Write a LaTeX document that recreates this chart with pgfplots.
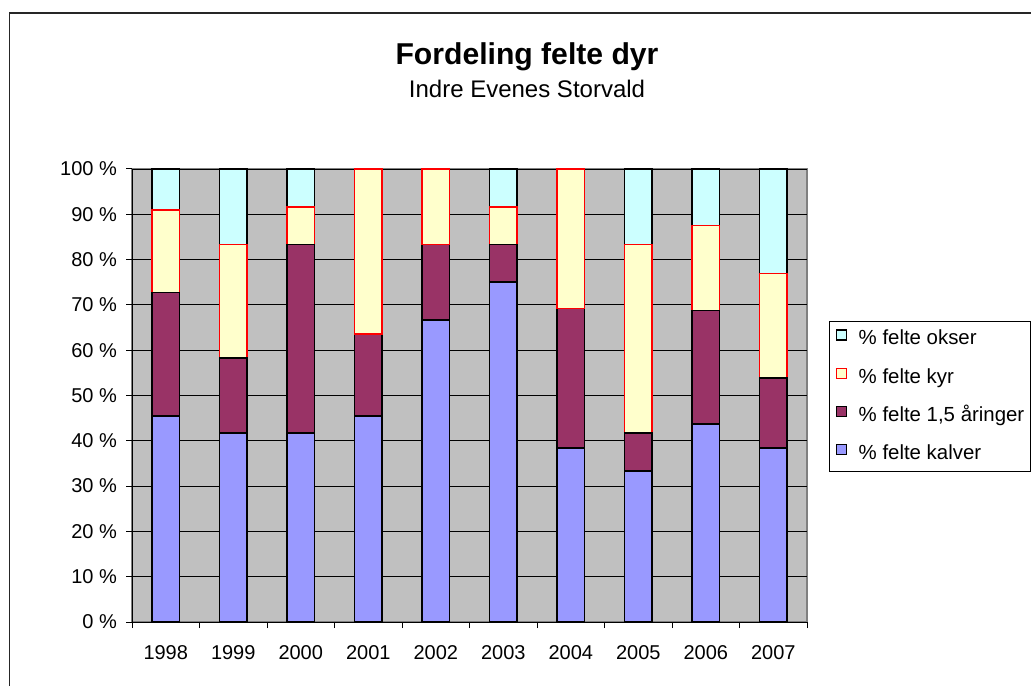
\documentclass[border=0pt]{standalone}
\usepackage{pgfplots}
\pgfplotsset{compat=1.18}
\usepackage{fontspec}
\setmainfont{Liberation Sans}
\definecolor{cokser}{HTML}{CCFFFF}
\definecolor{ckyr}{HTML}{FFFFCC}
\definecolor{cung}{HTML}{993366}
\definecolor{ckalv}{HTML}{9999FF}
\definecolor{bg}{HTML}{C0C0C0}
\definecolor{frame}{HTML}{808080}
\pgfplotsset{
  myframe/.style={
    at={(99pt,48pt)}, anchor=south west, scale only axis,
    width=506.25pt, height=339.75pt,
    ybar stacked, bar width=20.6pt,
    ymin=0, ymax=100, xmin=-0.5, xmax=9.5,
    clip=false,
    every axis plot/.append style={line width=1.2pt},
  }
}
\begin{document}
\begin{tikzpicture}[x=0.75pt,y=0.75pt]
\useasboundingbox (0,0) rectangle (1031,686);
\draw[line width=1.3pt,black!85] (9.5,0) -- (9.5,673) -- (1031,673);
\node[anchor=base,font=\fontsize{22.6}{26}\selectfont\bfseries,inner sep=0pt] at (527,621) {Fordeling felte dyr};
\node[anchor=base,font=\fontsize{18}{21}\selectfont,inner sep=0pt] at (527,588) {Indre Evenes Storvald};
\begin{axis}[
  myframe,
  axis lines*=left,
  axis line style={black, line width=0.75pt},
  axis background/.style={fill=bg, draw=frame, line width=0.9pt},
  tick align=outside,
  ytick={0,10,...,100},
  yticklabel={\pgfmathprintnumber{\tick}~\%},
  /pgf/number format/assume math mode=true,
  xtick={0,...,9},
  xticklabels={1998,1999,2000,2001,2002,2003,2004,2005,2006,2007},
  minor xtick={-0.5,0.5,...,9.5},
  major x tick style={draw=none},
  minor x tick style={black, line width=0.75pt},
  y tick style={black, line width=0.75pt},
  major tick length=4.5pt, minor tick length=4.5pt,
  tick label style={font=\fontsize{15}{18}\selectfont},
  xticklabel style={yshift=-9.5pt},
  yticklabel style={xshift=-3.25pt},
  ymajorgrids, major grid style={black, line width=0.6pt},
  reverse legend,
  legend cell align=left,
  legend image code/.code={\draw[#1, line width=0.9pt] (0pt,-0.3pt) rectangle (7.5pt,7.2pt);},
  legend style={at={(rel axis cs:1.0326,0.498)}, anchor=west, draw=black, line width=0.75pt, fill=white,
    font=\fontsize{15.3}{18}\selectfont,
    nodes={inner sep=0pt, text height=11pt, text depth=3pt},
    row sep=14pt, column sep=9pt,
    inner xsep=4.5pt, inner ysep=5.75pt},
]
\addplot[fill=ckalv, draw=black] coordinates {(0,45.45) (1,41.67) (2,41.67) (3,45.45) (4,66.67) (5,75) (6,38.46) (7,33.33) (8,43.75) (9,38.46)};
\addlegendentry{\% felte kalver}
\addplot[fill=cung, draw=black] coordinates {(0,27.27) (1,16.67) (2,41.66) (3,18.18) (4,16.66) (5,8.33) (6,30.77) (7,8.34) (8,25) (9,15.38)};
\addlegendentry{\% felte 1,5 åringer\hspace{16pt}}
\addplot[fill=ckyr, draw=red] coordinates {(0,18.18) (1,25) (2,8.34) (3,36.37) (4,16.67) (5,8.34) (6,30.77) (7,41.66) (8,18.75) (9,23.08)};
\addlegendentry{\% felte kyr}
\addplot[fill=cokser, draw=black] coordinates {(0,9.1) (1,16.66) (2,8.33) (3,0) (4,0) (5,8.33) (6,0) (7,16.67) (8,12.5) (9,23.08)};
\addlegendentry{\% felte okser}
\end{axis}
% redraw the 'kyr' segments of years without okser so that their top edge stays red
\begin{axis}[myframe, hide axis]
\addplot[draw=none, fill=none] coordinates {(3,45.45) (4,66.67) (6,38.46)};
\addplot[draw=none, fill=none] coordinates {(3,18.18) (4,16.66) (6,30.77)};
\addplot[fill=ckyr, draw=red] coordinates {(3,36.37) (4,16.67) (6,30.77)};
\end{axis}
\end{tikzpicture}
\end{document}
